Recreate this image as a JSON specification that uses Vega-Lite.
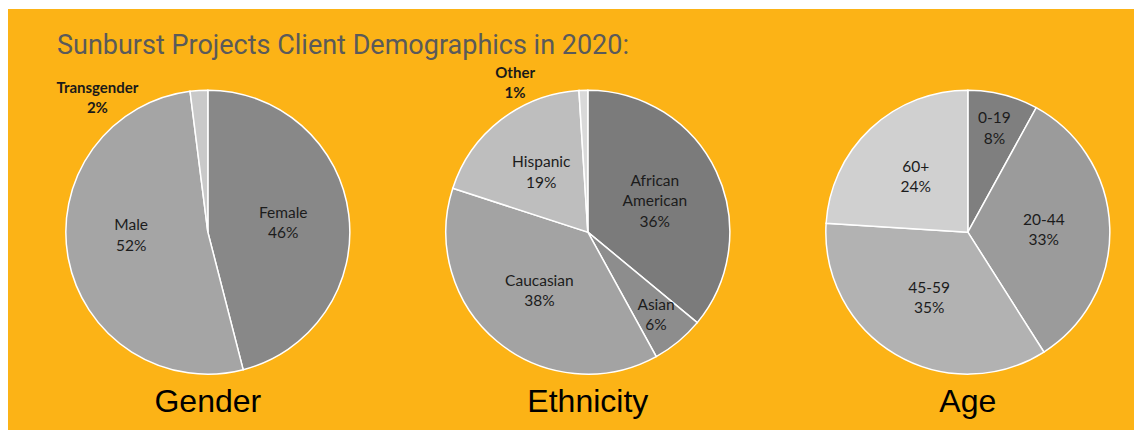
{
  "$schema": "https://vega.github.io/schema/vega-lite/v6.json",
  "width": 1134,
  "height": 430,
  "autosize": {"type": "fit", "contains": "padding"},
  "padding": {"left": 8, "top": 9, "right": 0, "bottom": 0},
  "background": "#ffffff",
  "config": {"view": {"fill": "#FCB316", "stroke": null}},
  "title": {
    "text": "Sunburst Projects Client Demographics in 2020:",
    "anchor": "start",
    "frame": "group",
    "orient": "top",
    "offset": -51,
    "dx": 49,
    "font": "Roboto",
    "fontSize": 27,
    "fontWeight": 400,
    "color": "#5a5a5a"
  },
  "data": {
    "values": [
      {"chart": "Gender", "label": "Female", "value": 46},
      {"chart": "Gender", "label": "Male", "value": 52},
      {"chart": "Gender", "label": "Transgender", "value": 2},
      {"chart": "Ethnicity", "label": "African American", "value": 36},
      {"chart": "Ethnicity", "label": "Asian", "value": 6},
      {"chart": "Ethnicity", "label": "Caucasian", "value": 38},
      {"chart": "Ethnicity", "label": "Hispanic", "value": 19},
      {"chart": "Ethnicity", "label": "Other", "value": 1},
      {"chart": "Age", "label": "0-19", "value": 8},
      {"chart": "Age", "label": "20-44", "value": 33},
      {"chart": "Age", "label": "45-59", "value": 35},
      {"chart": "Age", "label": "60+", "value": 24}
    ]
  },
  "transform": [
    {"stack": "value", "groupby": ["chart"], "offset": "normalize", "as": ["t0", "t1"]},
    {"calculate": "(datum.t0 + datum.t1) / 2", "as": "tm"},
    {"calculate": "datum.label + ' ' + datum.value + '%'", "as": "txt"}
  ],
  "encoding": {
    "x": {"field": "chart", "type": "nominal", "scale": {"type": "point", "domain": ["Gender", "Ethnicity", "Age"], "padding": 0.4816, "align": 0.546}, "axis": null},
    "y": {"datum": "all", "type": "nominal", "scale": {"type": "point", "align": 0.53}, "axis": null}
  },
  "layer": [
    {
      "mark": {"type": "arc", "radius": 142, "stroke": "#ffffff", "strokeWidth": 1.5},
      "encoding": {
        "theta": {"field": "t0", "type": "quantitative", "scale": {"domain": [0, 1]}},
        "theta2": {"field": "t1"},
        "color": {
          "field": "label",
          "type": "nominal",
          "legend": null,
          "scale": {
            "domain": ["Female", "Male", "Transgender", "African American", "Asian", "Caucasian", "Hispanic", "Other", "0-19", "20-44", "45-59", "60+"],
            "range": ["#888888", "#a5a5a5", "#c9c9c9", "#7b7b7b", "#8d8d8d", "#a3a3a3", "#bebebe", "#d9d9d9", "#7f7f7f", "#9b9b9b", "#b2b2b2", "#d0d0d0"]
          }
        }
      }
    },
    {
      "transform": [{"filter": "datum.value >= 10 && datum.label != 'African American' && datum.label != 'Male'"}],
      "mark": {"type": "text", "radius": 76, "dy": -10, "font": "Lato", "fontSize": 15.5, "lineBreak": " ", "lineHeight": 20.5, "color": "#1c1c1c", "baseline": "middle", "align": "center"},
      "encoding": {
        "theta": {"field": "tm", "type": "quantitative", "scale": {"domain": [0, 1]}},
        "text": {"field": "txt"}
      }
    },
    {
      "transform": [{"filter": "datum.label == 'Male'"}],
      "mark": {"type": "text", "radius": 76, "dx": -2, "dy": -21, "font": "Lato", "fontSize": 15.5, "lineBreak": " ", "lineHeight": 20.5, "color": "#1c1c1c", "baseline": "middle", "align": "center"},
      "encoding": {
        "theta": {"field": "tm", "type": "quantitative", "scale": {"domain": [0, 1]}},
        "text": {"field": "txt"}
      }
    },
    {
      "transform": [{"filter": "datum.label == 'African American'"}],
      "mark": {"type": "text", "radius": 74, "dy": -20, "font": "Lato", "fontSize": 15.5, "lineBreak": " ", "lineHeight": 20.5, "color": "#1c1c1c", "baseline": "middle", "align": "center"},
      "encoding": {
        "theta": {"field": "tm", "type": "quantitative", "scale": {"domain": [0, 1]}},
        "text": {"field": "txt"}
      }
    },
    {
      "transform": [{"filter": "datum.value < 10 && datum.value > 2"}],
      "mark": {"type": "text", "radius": 107, "dy": -10, "font": "Lato", "fontSize": 15.5, "lineBreak": " ", "lineHeight": 20.5, "color": "#1c1c1c", "baseline": "middle", "align": "center"},
      "encoding": {
        "theta": {"field": "tm", "type": "quantitative", "scale": {"domain": [0, 1]}},
        "text": {"field": "txt"}
      }
    },
    {
      "transform": [{"filter": "datum.label == 'Transgender'"}],
      "mark": {"type": "text", "radius": 150, "dx": -101, "dy": 6, "font": "Lato", "fontWeight": "bold", "fontSize": 15, "lineBreak": " ", "lineHeight": 20, "color": "#1a1a1a", "baseline": "middle", "align": "center"},
      "encoding": {
        "theta": {"field": "tm", "type": "quantitative", "scale": {"domain": [0, 1]}},
        "text": {"field": "txt"}
      }
    },
    {
      "transform": [{"filter": "datum.label == 'Other'"}],
      "mark": {"type": "text", "radius": 150, "dx": -68, "dy": -9, "font": "Lato", "fontWeight": "bold", "fontSize": 15, "lineBreak": " ", "lineHeight": 20, "color": "#1a1a1a", "baseline": "middle", "align": "center"},
      "encoding": {
        "theta": {"field": "tm", "type": "quantitative", "scale": {"domain": [0, 1]}},
        "text": {"field": "txt"}
      }
    },
    {
      "transform": [{"aggregate": [{"op": "count", "as": "n"}], "groupby": ["chart"]}],
      "mark": {"type": "text", "font": "Liberation Sans", "fontSize": 32, "baseline": "alphabetic", "align": "center", "dy": 180, "color": "#000000"},
      "encoding": {
        "text": {"field": "chart"}
      }
    }
  ]
}
